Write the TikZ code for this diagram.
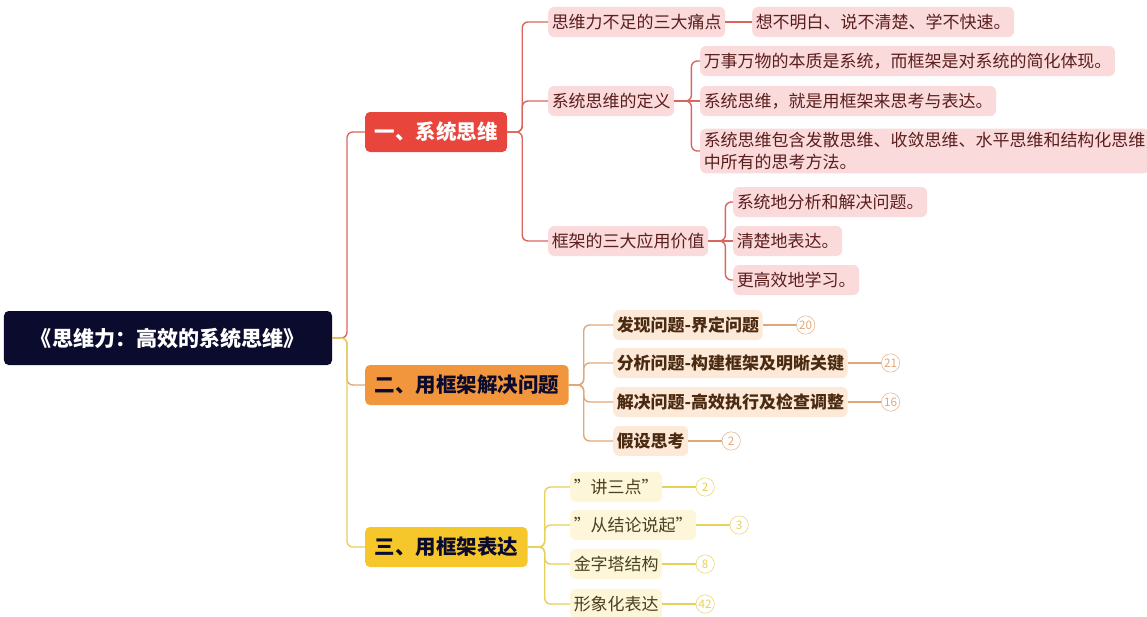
\documentclass[tikz,border=0pt]{standalone}
\usepackage{fontspec}
\setmainfont{Noto Sans CJK SC}
\usetikzlibrary{positioning}
\definecolor{rootc}{HTML}{0B0B2E}
\definecolor{redc}{HTML}{E8453C}
\definecolor{redl}{HTML}{D9665E}
\definecolor{redf}{HTML}{FADADA}
\definecolor{redt}{HTML}{5A1E1E}
\definecolor{orac}{HTML}{F2963E}
\definecolor{oral}{HTML}{E0A878}
\definecolor{oraf}{HTML}{FDE9D8}
\definecolor{orat}{HTML}{4A2A10}
\definecolor{yelc}{HTML}{F5C72A}
\definecolor{yell}{HTML}{E8D05A}
\definecolor{yelf}{HTML}{FDF6D8}
\definecolor{yelt}{HTML}{4A4020}
\begin{document}
\begin{tikzpicture}[x=0.03cm, y=-0.03cm,
    root/.style={fill=rootc, text=white, rounded corners=4pt, font=\fontsize{18}{21}\selectfont\bfseries, minimum width=9.84cm, minimum height=1.62cm},
    lone/.style={rounded corners=4pt, font=\fontsize{17.5}{20}\selectfont\bfseries, minimum height=1.2cm, inner xsep=8pt, anchor=west},
    ltwo/.style={fill=redf, text=redt, rounded corners=5pt, font=\fontsize{14.5}{18}\selectfont, minimum height=0.9cm, inner xsep=3pt, anchor=west},
    lor/.style={ltwo, fill=oraf, text=orat, font=\fontsize{14.5}{18}\selectfont\bfseries},
    lye/.style={ltwo, fill=yelf, text=yelt},
    badge/.style={circle, draw=#1, text=#1, inner sep=0pt, minimum size=0.55cm, font=\fontsize{10}{11}\selectfont, right=0.15cm},
    rl/.style={draw=redl, line width=1.2pt, rounded corners=5pt},
    ol/.style={draw=oral, line width=1.2pt, rounded corners=5pt},
    yl/.style={draw=yell, line width=1.2pt, rounded corners=5pt}
]
\useasboundingbox (0,0) rectangle (1147,617);

\node[root] (root) at (168,338) {《思维力：高效的系统思维》};
\coordinate (trunk) at (347,338);

\node[lone, fill=redc, text=white] (sys) at (365,132) {一、系统思维};
\node[lone, fill=orac, text=rootc] (sol) at (365,385) {二、用框架解决问题};
\node[lone, fill=yelc, text=rootc] (exp) at (365,547) {三、用框架表达};

\draw[rl] (root.east) -- (trunk) |- (sys.west);
\draw[ol] (root.east) -- (trunk) |- (sol.west);
\draw[yl] (root.east) -- (trunk) |- (exp.west);

% branch one
\node[ltwo] (pain) at (548,22) {思维力不足的三大痛点};
\node[ltwo] (def) at (548,101) {系统思维的定义};
\node[ltwo] (val) at (548,241) {框架的三大应用价值};
\node[ltwo] (painA) at (752,22) {想不明白、说不清楚、学不快速。};
\draw[rl] (sys.east) -- ++(15,0) |- (pain.west);
\draw[rl] (sys.east) -- ++(15,0) |- (def.west);
\draw[rl] (sys.east) -- ++(15,0) |- (val.west);
\draw[rl] (pain.east) -- (painA.west);

\node[ltwo] (defA) at (700,61) {万事万物的本质是系统，而框架是对系统的简化体现。};
\node[ltwo] (defB) at (700,101) {系统思维，就是用框架来思考与表达。};
\node[ltwo, align=left] (defC) at (700,151) {系统思维包含发散思维、收敛思维、水平思维和结构化思维\\中所有的思考方法。};
\draw[rl] (def.east) -- ++(17,0) |- (defA.west);
\draw[rl] (def.east) -- (defB.west);
\draw[rl] (def.east) -- ++(17,0) |- (defC.west);

\node[ltwo] (valA) at (733,202) {系统地分析和解决问题。};
\node[ltwo] (valB) at (733,241) {清楚地表达。};
\node[ltwo] (valC) at (733,280) {更高效地学习。};
\draw[rl] (val.east) -- ++(17,0) |- (valA.west);
\draw[rl] (val.east) -- (valB.west);
\draw[rl] (val.east) -- ++(17,0) |- (valC.west);

% branch two
\node[lor] (find) at (613,325) {发现问题-界定问题};
\node[lor] (ana) at (613,363) {分析问题-构建框架及明晰关键};
\node[lor] (res) at (613,402) {解决问题-高效执行及检查调整};
\node[lor] (hyp) at (613,441) {假设思考};
\foreach \n in {find,ana,res,hyp}
    \draw[ol] (sol.east) -- ++(15,0) |- (\n.west);
\node[badge=oral] (findN) [right=of find] {20};
\node[badge=oral] (anaN) [right=of ana] {21};
\node[badge=oral] (resN) [right=of res] {16};
\node[badge=oral] (hypN) [right=of hyp] {2};
\draw[ol] (find) -- (findN);
\draw[ol] (ana) -- (anaN);
\draw[ol] (res) -- (resN);
\draw[ol] (hyp) -- (hypN);

% branch three
\node[lye] (three) at (570,487) {"讲三点"};
\node[lye] (concl) at (570,525) {"从结论说起"};
\node[lye] (pyr) at (570,564) {金字塔结构};
\node[lye] (img) at (570,604) {形象化表达};
\foreach \n in {three,concl,pyr,img}
    \draw[yl] (exp.east) -- ++(17,0) |- (\n.west);
\node[badge=yell] (threeN) [right=of three] {2};
\node[badge=yell] (conclN) [right=of concl] {3};
\node[badge=yell] (pyrN) [right=of pyr] {8};
\node[badge=yell] (imgN) [right=of img] {42};
\draw[yl] (three) -- (threeN);
\draw[yl] (concl) -- (conclN);
\draw[yl] (pyr) -- (pyrN);
\draw[yl] (img) -- (imgN);
\end{tikzpicture}
\end{document}
